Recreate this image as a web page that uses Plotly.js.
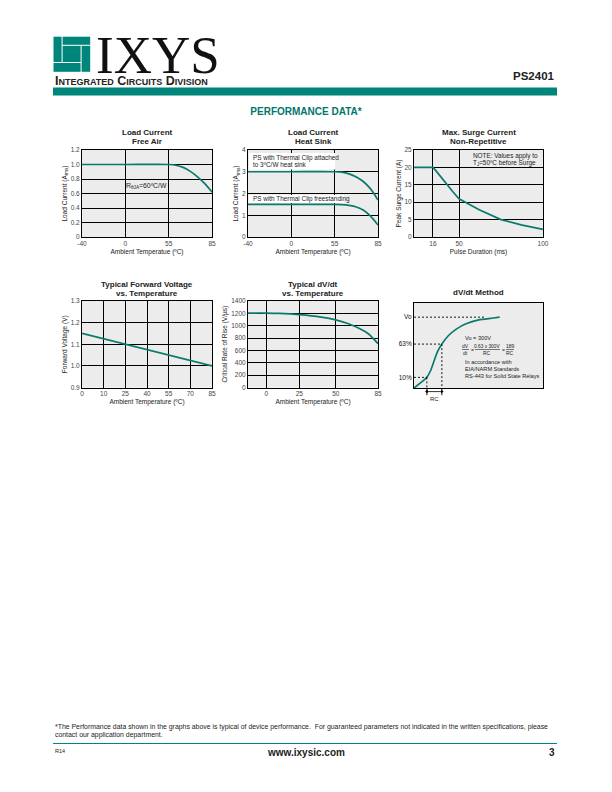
<!DOCTYPE html>
<html><head><meta charset="utf-8">
<script src="https://cdn.plot.ly/plotly-3.0.1.min.js"></script>
<style>html,body{margin:0;padding:0;background:#fff}#chart{width:612px;height:792px}</style>
</head><body><div id="chart"></div>
<script>
// ---------------- data ----------------
const tempTicks = [-40, 0, 55, 85];

const freeAirTemp = [-40, 0, 55, 60, 65, 70, 75, 80, 85];
const freeAirCurrent = [1.0, 1.0, 1.0, 0.99, 0.96, 0.905, 0.83, 0.735, 0.62];
const freeAirYTicks = [0, 0.2, 0.4, 0.6, 0.8, 1.0, 1.2];
const freeAirYLabels = ['0', '0.2', '0.4', '0.6', '0.8', '1.0', '1.2'];

const heatSinkTemp = [-40, 0, 55, 60, 65, 70, 75, 80, 85];
const heatSinkAttached = [3, 3, 3, 2.98, 2.9, 2.76, 2.54, 2.2, 1.7];
const heatSinkFree = [1.5, 1.5, 1.5, 1.49, 1.45, 1.38, 1.23, 0.95, 0.55];
const heatSinkYTicks = [0, 1, 2, 3, 4];

const pulseTicks = [16, 50, 100];
const pulseDuration = [0, 16, 20, 26, 35, 42, 50, 62, 75, 87, 100];
const surgeCurrent = [20, 20, 19, 17.3, 15, 13, 11, 7.8, 5, 3.5, 2.2];
const surgeYTicks = [0, 5, 10, 15, 20, 25];

const vfTempTicks = [0, 10, 25, 40, 55, 70, 85];
const vfTemp = [0, 10, 25, 40, 55, 70, 85];
const forwardVoltage = [1.15, 1.125, 1.1, 1.075, 1.05, 1.025, 1.0];
const vfYTicks = [0.9, 1.0, 1.1, 1.2, 1.3];
const vfYLabels = ['0.9', '1.0', '1.1', '1.2', '1.3'];

const dvdtTicks = [0, 25, 50, 85];
const dvdtTemp = [-15, 0, 10, 25, 40, 50, 60, 70, 77, 85];
const dvdtRate = [1205, 1205, 1200, 1180, 1140, 1095, 1035, 950, 870, 710];
const dvdtYTicks = [0, 200, 400, 600, 800, 1000, 1200, 1400];

const stepTime = [0, 0.055, 0.0995, 0.129, 0.154, 0.179, 0.216, 0.266, 0.328, 0.403, 0.502, 0.602, 0.664];
const stepLevel = [0, 0.079, 0.15, 0.247, 0.374, 0.5, 0.62, 0.738, 0.831, 0.906, 0.962, 0.985, 1.0];
const levelValues = [0.15, 0.62, 1.0];
const levelLabels = ['10%', '63%', 'Vo'];
const levelCrossTime = [0.0995, 0.216, 0.55];

// ---------------- helpers ----------------
const W = 612, H = 792;
const px = x => x / W;
const py = y => 1 - y / H;
const TEAL = '#00857a';
const CURVE = '#0a7a6c';
const FONT = 'Liberation Sans, Arial, sans-serif';

// piecewise-linear scale (the printed axes are not drawn to scale)
function pwScale(vals, pos) {
  return v => {
    for (let i = 0; i < vals.length - 1; i++) {
      if (v <= vals[i + 1] || i === vals.length - 2) {
        const t = (v - vals[i]) / (vals[i + 1] - vals[i]);
        return pos[i] + t * (pos[i + 1] - pos[i]);
      }
    }
  };
}
const sTemp = pwScale(tempTicks, [0, 1, 2, 3]);
const sPulse = pwScale([0].concat(pulseTicks), [0, 0.147, 0.349, 1]);
const sVf = pwScale(vfTempTicks, [0, 1, 2, 3, 4, 5, 6]);
const sDvdt = pwScale([-15].concat(dvdtTicks), [0, 0.14, 0.395, 0.675, 1]);

function axis(extra) {
  return Object.assign({
    showline: true, mirror: true, linecolor: '#000', linewidth: 1,
    showgrid: true, gridcolor: '#000', gridwidth: 1, zeroline: false,
    ticks: '', tickfont: {size: 6.5, color: '#444', family: FONT},
    fixedrange: true, automargin: false
  }, extra);
}
function xt(t) { return {text: t, font: {size: 6.5, color: '#222', family: FONT}, standoff: 3}; }
function yt(t) { return {text: t, font: {size: 6.5, color: '#222', family: FONT}, standoff: 2}; }

const row1 = [py(237), py(150)];
const row2 = [py(387.5), py(301)];
const c1 = [px(82), px(212)], c2 = [px(248), px(378)], c3 = [px(414), px(543)];

const line = {color: CURVE, width: 1.7, shape: 'spline', smoothing: 0.7};
const lineStraight = {color: CURVE, width: 1.7};
const traces = [
  {x: freeAirTemp.map(sTemp), y: freeAirCurrent, xaxis: 'x', yaxis: 'y', mode: 'lines', line: line, name: 'Free air'},
  {x: heatSinkTemp.map(sTemp), y: heatSinkAttached, xaxis: 'x2', yaxis: 'y2', mode: 'lines', line: line, name: 'Attached'},
  {x: heatSinkTemp.map(sTemp), y: heatSinkFree, xaxis: 'x2', yaxis: 'y2', mode: 'lines', line: line, name: 'Freestanding'},
  {x: pulseDuration.map(sPulse), y: surgeCurrent, xaxis: 'x3', yaxis: 'y3', mode: 'lines', line: lineStraight, name: 'Surge'},
  {x: vfTemp.map(sVf), y: forwardVoltage, xaxis: 'x4', yaxis: 'y4', mode: 'lines', line: lineStraight, name: 'Vf'},
  {x: dvdtTemp.map(sDvdt), y: dvdtRate, xaxis: 'x5', yaxis: 'y5', mode: 'lines', line: line, name: 'dV/dt'},
  {x: stepTime, y: stepLevel, xaxis: 'x6', yaxis: 'y6', mode: 'lines', name: 'Step', line: {color: CURVE, width: 1.7, shape: 'spline', smoothing: 0.6}}
];
const dash = {color: '#000', width: 0.9, dash: '2px,2px'};
levelValues.forEach((lv, i) => {
  traces.push({x: [0, levelCrossTime[i]], y: [lv, lv], xaxis: 'x6', yaxis: 'y6', mode: 'lines', line: dash});
  if (i < 2) traces.push({x: [levelCrossTime[i], levelCrossTime[i]], y: [lv, 0], xaxis: 'x6', yaxis: 'y6', mode: 'lines', line: dash});
});
// RC dimension below the dV/dt method box (helper subplot x7/y7)
[0, 1].forEach(i => traces.push({x: [levelCrossTime[i], levelCrossTime[i]], y: [1, 0.4], xaxis: 'x7', yaxis: 'y7', mode: 'lines', line: {color: '#000', width: 0.9}}));
traces.push({x: [levelCrossTime[0], levelCrossTime[1]], y: [0.7, 0.7], xaxis: 'x7', yaxis: 'y7', mode: 'lines+markers',
  line: {color: '#000', width: 0.8}, marker: {symbol: ['triangle-left', 'triangle-right'], size: 3.5, color: '#000'}, cliponaxis: false});
traces.forEach(t => { t.showlegend = false; t.hoverinfo = 'skip'; });

const ann = [];
function txt(x, y, text, size, opts) {
  ann.push(Object.assign({xref: 'paper', yref: 'paper', x: px(x), y: py(y), text: text, showarrow: false,
    xanchor: 'center', yanchor: 'middle', font: {size: size, color: '#222', family: FONT}}, opts || {}));
}
// header
txt(53, 80.5, 'Integrated Circuits Division', 12.5, {xanchor: 'left', font: {size: 12.5, color: '#222', family: FONT, weight: 'bold', variant: 'small-caps'}});
txt(94, 55.5, 'IXYS', 53, {xanchor: 'left', font: {size: 53, color: '#111', family: 'Liberation Serif, serif'}});
txt(557, 76.5, '<b>PS2401</b>', 11.5, {xanchor: 'right'});
// chart titles
txt(147, 132.5, '<b>Load Current</b>', 8); txt(147, 141.5, '<b>Free Air</b>', 8);
txt(313, 132.5, '<b>Load Current</b>', 8); txt(313, 141.5, '<b>Heat Sink</b>', 8);
txt(478.5, 132.5, '<b>Max. Surge Current</b>', 8); txt(478.5, 141.5, '<b>Non-Repetitive</b>', 8);
txt(147, 284.5, '<b>Typical Forward Voltage</b>', 8); txt(147, 293.5, '<b>vs. Temperature</b>', 8);
txt(313, 284.5, '<b>Typical dV/dt</b>', 8); txt(313, 293.5, '<b>vs. Temperature</b>', 8);
txt(478.5, 292, '<b>dV/dt Method</b>', 8);
// in-chart notes
txt(124, 186, 'R<sub>θJA</sub>=60ºC/W', 6.8, {xanchor: 'left'});
txt(251, 157.5, 'PS with Thermal Clip attached', 6.4, {xanchor: 'left'});
txt(251, 164.5, 'to 3ºC/W heat sink', 6.4, {xanchor: 'left'});
txt(251, 199, 'PS with Thermal Clip freestanding', 6.4, {xanchor: 'left'});
txt(471, 156, 'NOTE: Values apply to', 6.4, {xanchor: 'left'});
txt(471, 163, 'T<sub>J</sub>=50ºC before Surge', 6.4, {xanchor: 'left'});
txt(463, 338, 'Vo = 300V', 5.6, {xanchor: 'left'});
txt(465.5, 346, 'dV', 5); txt(465.5, 353, 'dt', 5); txt(472.5, 349.5, '=', 5);
txt(487.5, 346, '0.63 x 300V', 4.8); txt(487.5, 353, 'RC', 5); txt(503, 349.5, '=', 5);
txt(510, 346, '189', 5); txt(510, 353, 'RC', 5);
txt(463, 362, 'In accordance with', 5.6, {xanchor: 'left'});
txt(463, 369, 'EIA/NARM Standards', 5.6, {xanchor: 'left'});
txt(463, 376, 'RS-443 for Solid State Relays', 5.6, {xanchor: 'left'});
ann.push({xref: 'x7', yref: 'paper', x: (levelCrossTime[0] + levelCrossTime[1]) / 2, y: py(398.5), text: 'RC', showarrow: false,
  xanchor: 'center', yanchor: 'middle', font: {size: 6, color: '#222', family: FONT}});
// footer
txt(53, 727, '*The Performance data shown in the graphs above is typical of device performance.  For guaranteed parameters not indicated in the written specifications, please', 6.9, {xanchor: 'left'});
txt(53, 735, 'contact our application department.', 6.9, {xanchor: 'left'});
txt(53, 751, 'R14', 5.5, {xanchor: 'left'});
txt(306, 752, '<b>www.ixysic.com</b>', 10);
txt(557, 752, '<b>3</b>', 10, {xanchor: 'right'});

const shapes = [];
function rect(x0, y0, x1, y1, color) {
  shapes.push({type: 'rect', xref: 'paper', yref: 'paper', x0: px(x0), x1: px(x1), y0: py(y0), y1: py(y1),
    fillcolor: color, line: {width: 0}, layer: 'above'});
}
// plot backgrounds (under the gridlines)
['', '2', '3', '4', '5', '6'].forEach(n => shapes.push({type: 'rect', xref: 'x' + n + ' domain', yref: 'y' + n + ' domain',
  x0: 0, x1: 1, y0: 0, y1: 1, fillcolor: '#ececec', line: {width: 0}, layer: 'below'}));
// logo pinwheel
rect(53.5, 36.7, 61.6, 62, TEAL);
rect(53.5, 63, 80.6, 71.8, TEAL);
rect(81.6, 45.8, 90.2, 71.8, TEAL);
rect(62.6, 36.7, 90.2, 44.8, TEAL);
rect(62.6, 45.8, 80.6, 62, TEAL);
// header bar
rect(53, 87.5, 557, 95.5, TEAL);
// white label boxes in chart 2
rect(249, 153, 335, 169.5, '#fff');
rect(249, 195, 344, 203, '#fff');
// fraction bars chart 6
[[462, 469], [475, 500], [506, 514]].forEach(s => shapes.push({type: 'line', xref: 'paper', yref: 'paper',
  x0: px(s[0]), x1: px(s[1]), y0: py(349.5), y1: py(349.5), line: {color: '#222', width: 0.6}, layer: 'above'}));
// footer rule
shapes.push({type: 'line', xref: 'paper', yref: 'paper', x0: px(53), x1: px(557), y0: py(743.5), y1: py(743.5), line: {color: TEAL, width: 1}});

const layout = {
  width: W, height: H, margin: {l: 0, r: 0, t: 0, b: 0},
  paper_bgcolor: '#fff', plot_bgcolor: 'rgba(0,0,0,0)', showlegend: false,
  font: {family: FONT, color: '#222'},
  title: {text: '<b>PERFORMANCE DATA*</b>', font: {size: 10, color: '#00776b', family: FONT}, x: 0.5, xanchor: 'center', xref: 'paper', yref: 'paper', y: py(111), yanchor: 'middle'},
  xaxis: axis({domain: c1, anchor: 'y', range: [0, 3], tickvals: tempTicks.map(sTemp), ticktext: tempTicks.map(String), title: xt('Ambient Temperatue (ºC)')}),
  yaxis: axis({domain: row1, anchor: 'x', range: [0, 1.2], tickvals: freeAirYTicks, ticktext: freeAirYLabels, title: yt('Load Current (A<sub>rms</sub>)')}),
  xaxis2: axis({domain: c2, anchor: 'y2', range: [0, 3], tickvals: tempTicks.map(sTemp), ticktext: tempTicks.map(String), title: xt('Ambient Temperature (ºC)')}),
  yaxis2: axis({domain: row1, anchor: 'x2', range: [0, 4], tickvals: heatSinkYTicks, title: yt('Load Current (A<sub>rms</sub>)')}),
  xaxis3: axis({domain: c3, anchor: 'y3', range: [0, 1], tickvals: pulseTicks.map(sPulse), ticktext: pulseTicks.map(String), title: xt('Pulse Duration (ms)')}),
  yaxis3: axis({domain: row1, anchor: 'x3', range: [0, 25], tickvals: surgeYTicks, title: yt('Peak Surge Current (A)')}),
  xaxis4: axis({domain: c1, anchor: 'y4', range: [0, 6], tickvals: vfTempTicks.map(sVf), ticktext: vfTempTicks.map(String), title: xt('Ambient Temperature (ºC)')}),
  yaxis4: axis({domain: row2, anchor: 'x4', range: [0.9, 1.3], tickvals: vfYTicks, ticktext: vfYLabels, title: yt('Forward Voltage (V)')}),
  xaxis5: axis({domain: c2, anchor: 'y5', range: [0, 1], tickvals: dvdtTicks.map(sDvdt), ticktext: dvdtTicks.map(String), title: xt('Ambient Temperature (ºC)')}),
  yaxis5: axis({domain: row2, anchor: 'x5', range: [0, 1400], tickvals: dvdtYTicks, title: yt('Critical Rate of Rise (V/µs)')}),
  xaxis6: axis({domain: c3, anchor: 'y6', range: [0, 1], showgrid: false, showticklabels: false}),
  yaxis6: axis({domain: [py(388), py(303)], anchor: 'x6', range: [0, 1.2], showgrid: false, tickvals: levelValues, ticktext: levelLabels, tickfont: {size: 6.5, color: '#111', family: FONT}}),
  xaxis7: {domain: c3, anchor: 'y7', range: [0, 1], visible: false, fixedrange: true},
  yaxis7: {domain: [py(400), py(388)], anchor: 'x7', range: [0, 1], visible: false, fixedrange: true},
  annotations: ann, shapes: shapes
};
Plotly.newPlot('chart', traces, layout, {staticPlot: true, displayModeBar: false});
</script></body></html>
